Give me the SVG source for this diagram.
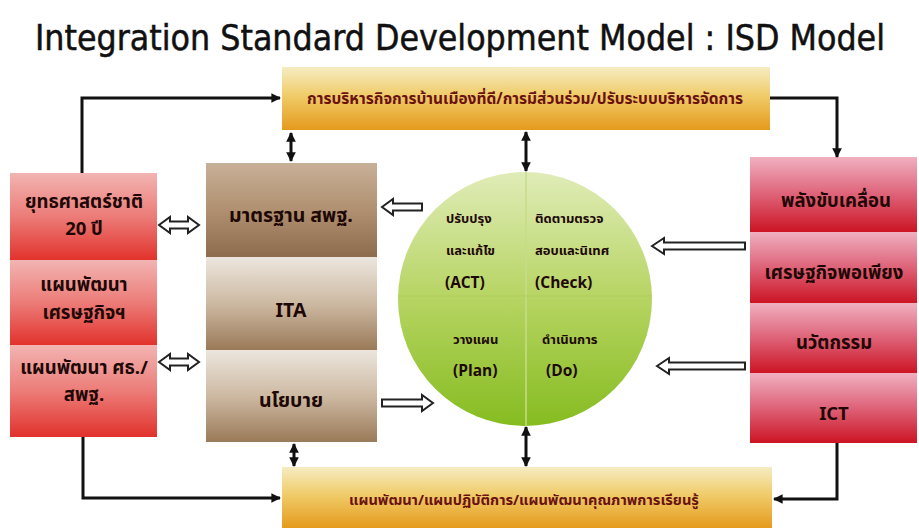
<svg xmlns="http://www.w3.org/2000/svg" width="919" height="528" viewBox="0 0 919 528">
<defs>
<linearGradient id="gBar" x1="0" y1="0" x2="0" y2="1"><stop offset="0" stop-color="#f6ecc2"/><stop offset="0.45" stop-color="#f0cc6a"/><stop offset="1" stop-color="#e59a1c"/></linearGradient>
<linearGradient id="gRed" x1="0" y1="0" x2="0" y2="1"><stop offset="0" stop-color="#f2b4b2"/><stop offset="0.5" stop-color="#ec7c78"/><stop offset="1" stop-color="#e2322c"/></linearGradient>
<linearGradient id="gBrown" x1="0" y1="0" x2="0" y2="1"><stop offset="0" stop-color="#ece6de"/><stop offset="0.5" stop-color="#cdb9a2"/><stop offset="1" stop-color="#9a7a58"/></linearGradient>
<linearGradient id="gBrown2" x1="0" y1="0" x2="0" y2="1"><stop offset="0" stop-color="#c8b098"/><stop offset="0.5" stop-color="#b09070"/><stop offset="1" stop-color="#8c6c4c"/></linearGradient>
<linearGradient id="gPink" x1="0" y1="0" x2="0" y2="1"><stop offset="0" stop-color="#f0b0c0"/><stop offset="0.45" stop-color="#e06a80"/><stop offset="1" stop-color="#cc1424"/></linearGradient>
<linearGradient id="gGreen" x1="0" y1="0" x2="0" y2="1"><stop offset="0" stop-color="#e0ecb8"/><stop offset="0.5" stop-color="#b6d462"/><stop offset="1" stop-color="#86bc20"/></linearGradient>
<marker id="ah" viewBox="0 0 10 10" refX="9" refY="5" markerWidth="3.2" markerHeight="3.2" orient="auto-start-reverse"><path d="M0,0 L10,5 L0,10 Z" fill="#111"/></marker>
</defs>
<style>
.title{font-family:"DejaVu Sans Condensed","DejaVu Sans",sans-serif;font-size:36px;fill:#111;stroke:#111;stroke-width:0.5;}
.th{font-family:"Noto Sans Thai","Noto Sans","DejaVu Sans",sans-serif;font-weight:bold;fill:#1e0806;text-anchor:middle;}
.bar{fill:#6a1212;}
.s18{font-size:18.5px;}
.s19{font-size:19.5px;}
.s13{font-size:13px;text-anchor:start;}
.e16{font-size:15.5px;text-anchor:start;}
.con{fill:none;stroke:#111;stroke-width:3;}
.hol{fill:#fff;stroke:#222;stroke-width:2;stroke-linejoin:miter;}
</style>
<rect width="919" height="528" fill="#ffffff"/>
<text class="title" x="460" y="50" text-anchor="middle" textLength="850" lengthAdjust="spacingAndGlyphs">Integration  Standard  Development  Model : ISD  Model</text>

<g id="top-bar">
<rect x="282" y="67" width="488" height="63" fill="url(#gBar)"/>
<text class="th bar" x="525" y="104" font-size="15.5">การบริหารกิจการบ้านเมืองที่ดี/การมีส่วนร่วม/ปรับระบบบริหารจัดการ</text>
</g>
<g id="bottom-bar">
<rect x="282" y="467" width="490" height="61" fill="url(#gBar)"/>
<text class="th bar" x="524" y="505" font-size="14.6">แผนพัฒนา/แผนปฏิบัติการ/แผนพัฒนาคุณภาพการเรียนรู้</text>
</g>

<g id="left-box">
<rect x="10" y="173" width="147" height="87" fill="url(#gRed)"/>
<rect x="10" y="260" width="147" height="85" fill="url(#gRed)"/>
<rect x="10" y="345" width="147" height="92" fill="url(#gRed)"/>
<text class="th s18" x="84" y="208">ยุทธศาสตร์ชาติ</text>
<text class="th s18" x="84" y="235">20 ปี</text>
<text class="th s18" x="84" y="291">แผนพัฒนา</text>
<text class="th s18" x="84" y="319">เศรษฐกิจฯ</text>
<text class="th s18" x="84" y="374">แผนพัฒนา ศธ./</text>
<text class="th s18" x="84" y="401">สพฐ.</text>
</g>

<g id="middle-box">
<rect x="206" y="163" width="171" height="94" fill="url(#gBrown2)"/>
<rect x="206" y="257" width="171" height="93" fill="url(#gBrown)"/>
<rect x="206" y="350" width="171" height="92" fill="url(#gBrown)"/>
<text class="th s19" x="291" y="222">มาตรฐาน สพฐ.</text>
<text class="th s19" x="291" y="317">ITA</text>
<text class="th s19" x="291" y="407">นโยบาย</text>
</g>

<g id="pdca-circle">
<circle cx="525" cy="299" r="127" fill="url(#gGreen)"/>
<line x1="526" y1="172" x2="526" y2="426" stroke="#c6dc88" stroke-width="1.5"/>
<line x1="398" y1="296" x2="652" y2="296" stroke="#b4d060" stroke-width="1.5"/>
<text class="th s13" x="446" y="223">ปรับปรุง</text>
<text class="th s13" x="446" y="255">และแก้ไข</text>
<text class="th e16" x="445" y="288">(ACT)</text>
<text class="th s13" x="535" y="223">ติดตามตรวจ</text>
<text class="th s13" x="535" y="255">สอบและนิเทศ</text>
<text class="th e16" x="535" y="288">(Check)</text>
<text class="th s13" x="453" y="344">วางแผน</text>
<text class="th e16" x="453" y="376">(Plan)</text>
<text class="th s13" x="542" y="344">ดำเนินการ</text>
<text class="th e16" x="546" y="376">(Do)</text>
</g>

<g id="right-box">
<rect x="750" y="157" width="167" height="75" fill="url(#gPink)"/>
<rect x="750" y="232" width="167" height="71" fill="url(#gPink)"/>
<rect x="750" y="303" width="167" height="70" fill="url(#gPink)"/>
<rect x="750" y="373" width="167" height="70" fill="url(#gPink)"/>
<text class="th s18" x="836" y="207">พลังขับเคลื่อน</text>
<text class="th s18" x="834" y="279">เศรษฐกิจพอเพียง</text>
<text class="th s18" x="834" y="349">นวัตกรรม</text>
<text class="th s18" x="834" y="420">ICT</text>
</g>

<g id="connectors">
<polyline class="con" points="82,173 82,98 280,98" marker-end="url(#ah)"/>
<polyline class="con" points="770,98 837,98 837,157" marker-end="url(#ah)"/>
<polyline class="con" points="83,437 83,498 280,498" marker-end="url(#ah)"/>
<polyline class="con" points="837,443 837,499 774,499" marker-end="url(#ah)"/>
<line class="con" x1="291" y1="133" x2="291" y2="161" marker-start="url(#ah)" marker-end="url(#ah)"/>
<line class="con" x1="526" y1="132" x2="526" y2="171" marker-start="url(#ah)" marker-end="url(#ah)"/>
<line class="con" x1="294" y1="444" x2="294" y2="466" marker-start="url(#ah)" marker-end="url(#ah)"/>
<line class="con" x1="526" y1="427" x2="526" y2="466" marker-start="url(#ah)" marker-end="url(#ah)"/>
<path class="hol" transform="translate(159,225)" d="M0,0 L11,-8 V-3.5 H29 V-8 L40,0 L29,8 V3.5 H11 V8 Z"/>
<path class="hol" transform="translate(159,362)" d="M0,0 L11,-8 V-3.5 H29 V-8 L40,0 L29,8 V3.5 H11 V8 Z"/>
<path class="hol" transform="translate(382,207)" d="M0,0 L11,-8 V-3.5 H40 V3.5 H11 V8 Z"/>
<path class="hol" transform="translate(433,403) scale(-1,1)" d="M0,0 L11,-8 V-3.5 H51 V3.5 H11 V8 Z"/>
<path class="hol" transform="translate(652,246)" d="M0,0 L12,-8 V-3.5 H93 V3.5 H12 V8 Z"/>
<path class="hol" transform="translate(657,366)" d="M0,0 L12,-8 V-3.5 H88 V3.5 H12 V8 Z"/>
</g>
</svg>
